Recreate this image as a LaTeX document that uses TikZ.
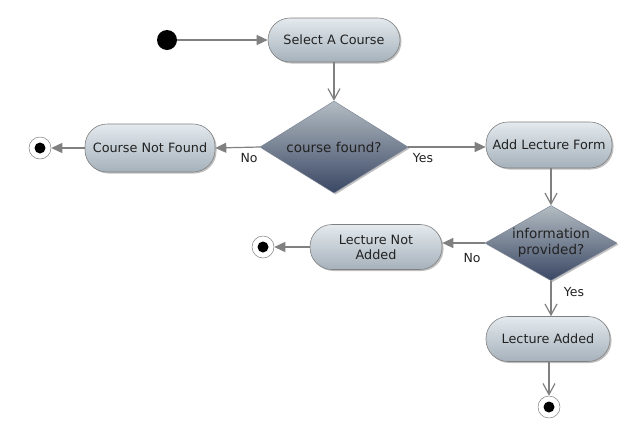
\documentclass[tikz,border=0pt]{standalone}
\usepackage{fontspec}
\setmainfont{DejaVu Sans}
\usetikzlibrary{shapes.geometric,arrows.meta,shadows}
\definecolor{linegray}{HTML}{808080}
\definecolor{pilltop}{HTML}{E4EAEE}
\definecolor{pillbot}{HTML}{A5B1BB}
\definecolor{diatop}{HTML}{B3BCC2}
\definecolor{diabot}{HTML}{3A4764}
\definecolor{txt}{HTML}{222222}
\tikzset{
  pill/.style={rectangle, draw=linegray, line width=0.6pt, rounded corners=22pt,
    minimum width=130pt, minimum height=46pt, inner sep=2pt, align=center,
    top color=pilltop, bottom color=pillbot, text=txt, font=\fontsize{12.8}{15}\selectfont,
    drop shadow={shadow xshift=1.5pt, shadow yshift=-1.5pt, opacity=0.25, fill=black}},
  decision/.style={diamond, draw=diabot!70, line width=0.4pt, inner sep=-4pt, align=center,
    top color=diatop, bottom color=diabot, text=txt, font=\fontsize{13.5}{16}\selectfont,
    drop shadow={shadow xshift=1.5pt, shadow yshift=-1.5pt, opacity=0.25, fill=black}},
  startdot/.style={circle, fill=black, minimum size=20pt, inner sep=0pt},
  enddot/.style={circle, draw=linegray, line width=0.5pt, fill=white, minimum size=22pt, inner sep=0pt,
    path picture={\fill[black] (path picture bounding box.center) circle (5.5pt);}},
  flowh/.style={draw=linegray, line width=1.2pt, -{Triangle[length=11pt,width=10pt]}},
  flowv/.style={draw=linegray, line width=1.2pt, -{Straight Barb[length=11pt,width=12pt,line width=1.2pt]}},
  lbl/.style={font=\fontsize{12.5}{14}\selectfont, text=txt, inner sep=0pt}
}
\begin{document}
\begin{tikzpicture}[x=1pt,y=-1pt]
\useasboundingbox (0,0) rectangle (642,440);
\node[startdot] (start) at (167,40) {};
\node[pill, minimum width=132pt, minimum height=44pt] (select) at (334,40) {Select A Course};
\node[decision, aspect=1.6, minimum width=148pt, minimum height=92pt] (d1) at (334,147) {course found?};
\node[pill, minimum width=130pt, minimum height=48pt] (cnf) at (150,148) {Course Not Found};
\node[enddot] (e1) at (40,148) {};
\node[pill, minimum width=126pt, minimum height=46pt] (alf) at (549,145) {Add Lecture Form};
\node[decision, aspect=1.76, minimum width=132pt, minimum height=75pt] (d2) at (551,243) {information\\provided?};
\node[pill, minimum width=132pt, minimum height=45pt] (lna) at (376,247) {Lecture Not\\Added};
\node[enddot] (e2) at (263,247) {};
\node[pill, minimum width=124pt, minimum height=45pt] (la) at (548,339) {Lecture Added};
\node[enddot] (e3) at (549,407) {};

\draw[flowh] (start) -- (select);
\draw[flowv] (select) -- (d1);
\draw[flowh] (d1.west) -- (cnf.east);
\draw[flowh] (cnf) -- (e1);
\draw[flowh] (d1.east) -- (alf.west |- d1.east);
\draw[flowv] (alf.south -| d2.north) -- (d2.north);
\draw[flowh] (d2.west) -- (lna.east |- d2.west);
\draw[flowh] (lna.west |- e2) -- (e2);
\draw[flowv] (d2.south) -- (d2.south |- la.north);
\draw[flowv] (la.south -| e3) -- (e3);

\node[lbl] (no1) at (249,158) {No};
\node[lbl] (yes1) at (423,158) {Yes};
\node[lbl] (no2) at (472,258) {No};
\node[lbl] (yes2) at (574,292) {Yes};
\end{tikzpicture}
\end{document}
